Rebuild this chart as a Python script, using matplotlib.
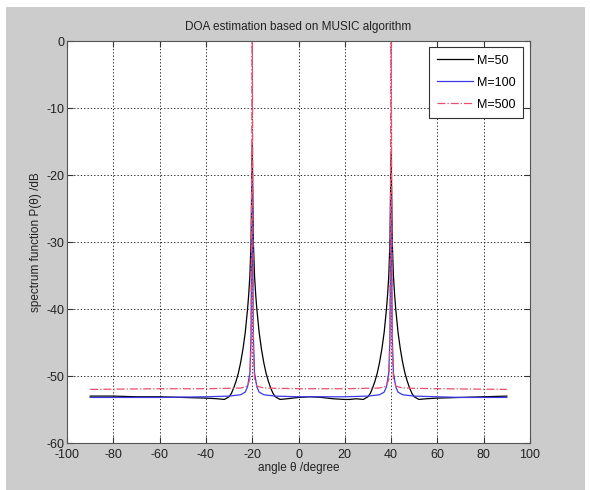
import matplotlib
matplotlib.use("Agg")
import matplotlib.pyplot as plt
from matplotlib.patches import Rectangle

plt.rcParams['font.family'] = ['Liberation Sans', 'DejaVu Sans']
plt.rcParams['axes.unicode_minus'] = False

title = "DOA estimation based on MUSIC algorithm"
xlabel = "angle θ /degree"
ylabel = "spectrum function P(θ) /dB"
xticks = [-100, -80, -60, -40, -20, 0, 20, 40, 60, 80, 100]
yticks = [-60, -50, -40, -30, -20, -10, 0]

# M=50 (black)
ang_m50 = [-90, -80, -70, -60, -50, -40, -35, -32, -30, -29, -28, -27, -26, -25, -24,
           -23, -22, -21.5, -21, -20.5, -20, -19.5, -19, -18.5, -18, -17, -16, -15,
           -14, -13, -12, -11, -10, -8, -5, 0, 5, 10, 15, 20, 22, 25, 28, 30, 31, 32,
           33, 34, 35, 36, 37, 38, 38.5, 39, 39.5, 40, 40.5, 41, 41.5, 42, 43, 44, 45,
           46, 47, 48, 49, 50, 52, 55, 60, 70, 80, 90]
val_m50 = [-53.0, -53.0, -53.1, -53.1, -53.2, -53.3, -53.4, -53.5, -53.1, -52.6, -51.8,
           -50.8, -49.6, -48.0, -46.0, -43.5, -40.0, -37.8, -35.0, -30.0, -15.5, -30.0,
           -35.0, -37.8, -40.0, -43.5, -46.0, -48.0, -49.6, -50.8, -51.8, -52.6, -53.1,
           -53.5, -53.4, -53.2, -53.1, -53.2, -53.4, -53.5, -53.5, -53.4, -53.5, -53.1,
           -52.6, -51.8, -50.8, -49.6, -48.0, -46.0, -43.5, -40.0, -37.8, -35.0, -30.0,
           -16.5, -30.0, -35.0, -37.8, -40.0, -43.5, -46.0, -48.0, -49.6, -50.8, -51.8,
           -52.6, -53.1, -53.5, -53.4, -53.3, -53.2, -53.1, -53.0]

# M=100 (blue)
ang_m100 = [-90, -60, -40, -30, -25, -23, -22, -21, -20.5, -20, -19.5, -19, -18, -17,
            -15, -10, 0, 20, 30, 35, 37, 38, 39, 39.5, 40, 40.5, 41, 42, 43, 45, 50,
            70, 90]
val_m100 = [-53.2, -53.2, -53.1, -53.0, -52.8, -52.4, -51.6, -49.5, -44.0, -21.0, -44.0,
            -49.5, -51.6, -52.4, -52.8, -53.0, -53.1, -53.1, -53.0, -52.8, -52.4, -51.6,
            -49.5, -44.0, -23.0, -44.0, -49.5, -51.6, -52.4, -52.8, -53.0, -53.2, -53.2]

# M=500 (red dash-dot)
ang_m500 = [-90, -60, -40, -25, -22, -21, -20.5, -20, -19.5, -19, -18, -15, 0, 20, 35,
            38, 39, 39.5, 40, 40.5, 41, 42, 45, 60, 90]
val_m500 = [-52.0, -51.9, -51.9, -51.8, -51.5, -50.5, -46.0, 5.0, -46.0, -50.5, -51.5,
            -51.8, -51.9, -51.9, -51.8, -51.5, -50.5, -46.0, 5.0, -46.0, -50.5, -51.5,
            -51.8, -51.9, -52.0]

fig = plt.figure(figsize=(5.9, 4.9), dpi=100, facecolor='white')
fig.patches.append(Rectangle((6/590, 0), 579/590, 483/490, transform=fig.transFigure,
                             facecolor='#cccccc', edgecolor='none', zorder=-10))
ax = fig.add_axes([67/590, 1 - 443/490, 463/590, 402/490])
ax.set_facecolor('white')

ax.plot(ang_m50, val_m50, color='black', lw=0.9, label='M=50')
ax.plot(ang_m100, val_m100, color='#3a3ae8', lw=0.9, label='M=100')
ax.plot(ang_m500, val_m500, color='#e8506e', lw=0.9, linestyle='-.', label='M=500')

ax.set_xlim(-100, 100)
ax.set_ylim(-60, 0)
ax.set_xticks(xticks)
ax.set_yticks(yticks)
ax.grid(True, color='black', linestyle=(0, (1.5, 2.5)), linewidth=0.6)
ax.tick_params(direction='in', top=True, right=True, labelsize=9, length=4,
               colors='#333333', labelcolor='#222222', pad=2)
ax.tick_params(axis='x', pad=4)
for s in ax.spines.values():
    s.set_color('#555555')
    s.set_linewidth(0.8)

ax.set_title(title, fontsize=8.5, color='#222222', pad=8)
ax.set_xlabel(xlabel, fontsize=8.5, color='#222222', labelpad=1)
ax.set_ylabel(ylabel, fontsize=8.5, color='#222222', labelpad=3)

leg = ax.legend(loc='upper right', fontsize=9, frameon=True, fancybox=False,
                bbox_to_anchor=(523/590, 1 - 47/490), bbox_transform=fig.transFigure,
                borderaxespad=0, handlelength=2.9, labelspacing=0.8,
                borderpad=0.6, handletextpad=0.3)
leg.get_frame().set_edgecolor('#333333')
leg.get_frame().set_linewidth(0.8)
leg.get_frame().set_facecolor('white')
leg.get_frame().set_alpha(1)

fig.savefig('out.png', dpi=100, facecolor=fig.get_facecolor())
